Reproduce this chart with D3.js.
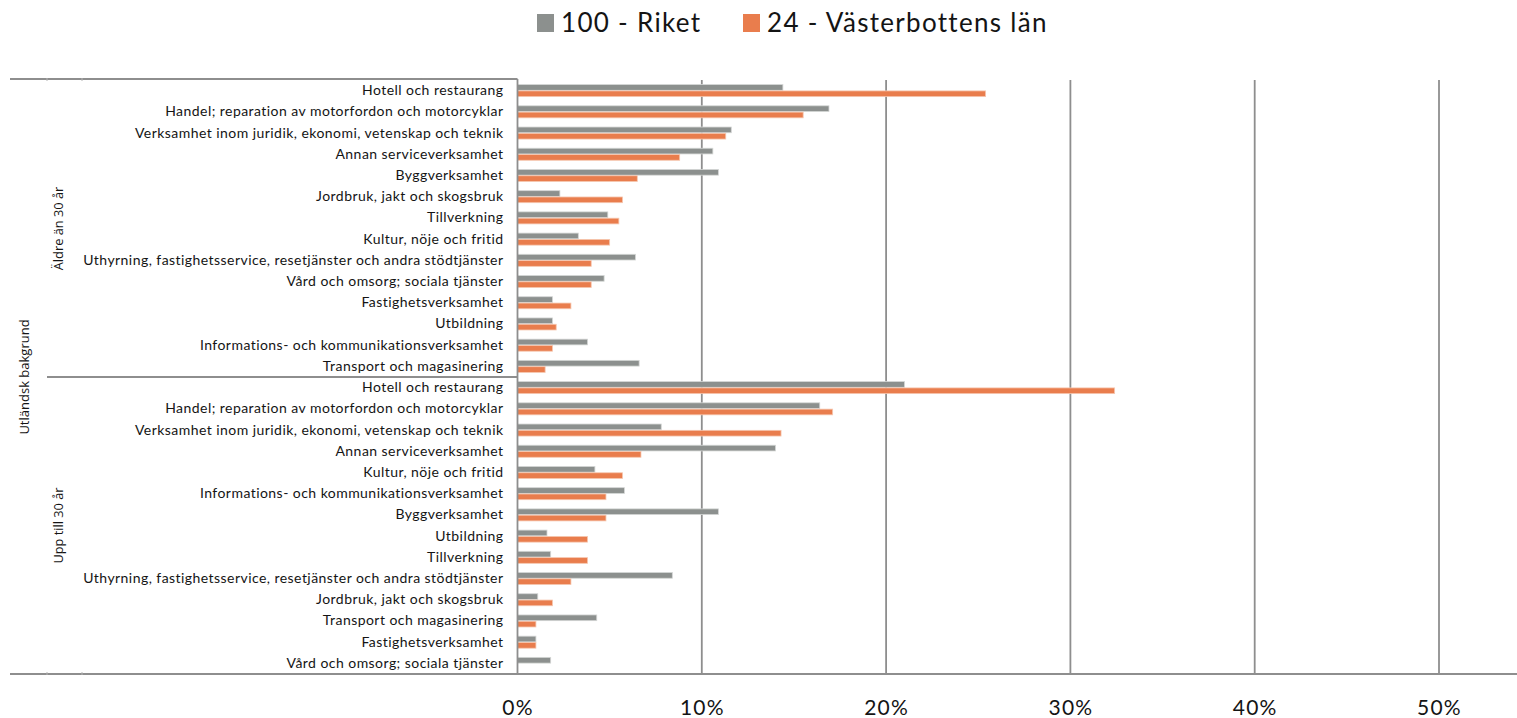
<!DOCTYPE html>
<html>
<head>
<meta charset="utf-8">
<script src="https://cdn.jsdelivr.net/npm/d3@7"></script>
<style>
  html, body { margin: 0; padding: 0; background: #ffffff; }
  svg { display: block; }
</style>
</head>
<body>
<svg id="chart" width="1517" height="718"></svg>
<script>
// Series shown in the legend
const seriesNames = ["100 - Riket", "24 - Västerbottens län"];
const seriesColors = ["#8c908e", "#e97d4d"];

// Outer and inner category levels
const outerGroup = "Utländsk bakgrund";
const ageGroups = ["Äldre än 30 år", "Upp till 30 år"];

// Industries, 30 years and older (share of employed)
const industriesOlder = [
  "Hotell och restaurang",
  "Handel; reparation av motorfordon och motorcyklar",
  "Verksamhet inom juridik, ekonomi, vetenskap och teknik",
  "Annan serviceverksamhet",
  "Byggverksamhet",
  "Jordbruk, jakt och skogsbruk",
  "Tillverkning",
  "Kultur, nöje och fritid",
  "Uthyrning, fastighetsservice, resetjänster och andra stödtjänster",
  "Vård och omsorg; sociala tjänster",
  "Fastighetsverksamhet",
  "Utbildning",
  "Informations- och kommunikationsverksamhet",
  "Transport och magasinering"
];
const riketOlder = [0.144, 0.169, 0.116, 0.106, 0.109, 0.023, 0.049, 0.033, 0.064, 0.047, 0.019, 0.019, 0.038, 0.066];
const vasterbottenOlder = [0.254, 0.155, 0.113, 0.088, 0.065, 0.057, 0.055, 0.050, 0.040, 0.040, 0.029, 0.021, 0.019, 0.015];

// Industries, up to 30 years
const industriesYounger = [
  "Hotell och restaurang",
  "Handel; reparation av motorfordon och motorcyklar",
  "Verksamhet inom juridik, ekonomi, vetenskap och teknik",
  "Annan serviceverksamhet",
  "Kultur, nöje och fritid",
  "Informations- och kommunikationsverksamhet",
  "Byggverksamhet",
  "Utbildning",
  "Tillverkning",
  "Uthyrning, fastighetsservice, resetjänster och andra stödtjänster",
  "Jordbruk, jakt och skogsbruk",
  "Transport och magasinering",
  "Fastighetsverksamhet",
  "Vård och omsorg; sociala tjänster"
];
const riketYounger = [0.210, 0.164, 0.078, 0.140, 0.042, 0.058, 0.109, 0.016, 0.018, 0.084, 0.011, 0.043, 0.010, 0.018];
const vasterbottenYounger = [0.324, 0.171, 0.143, 0.067, 0.057, 0.048, 0.048, 0.038, 0.038, 0.029, 0.019, 0.010, 0.010, 0];

// Axis ticks
const tickValues = [0, 0.1, 0.2, 0.3, 0.4, 0.5];

// Build row records
const rows = [];
[[industriesOlder, riketOlder, vasterbottenOlder], [industriesYounger, riketYounger, vasterbottenYounger]]
  .forEach(([cats, a, b], g) => {
    cats.forEach((c, i) => rows.push({ key: g + "|" + i, label: c, group: g, values: [a[i], b[i]] }));
  });

const svg = d3.select("#chart");
const fontLabel = "Lato, 'Liberation Sans', sans-serif";
const axisColor = "#8e8e8e";
const textColor = "#141414";

const plotTop = 80, plotBottom = 674;
const x = d3.scaleLinear().domain([0, 0.5]).range([517.5, 1439]);
const y = d3.scaleBand().domain(rows.map(r => r.key)).range([plotTop, plotBottom]).padding(0);
const ySeries = d3.scaleBand().domain([0, 1]).range([0, y.bandwidth()]).paddingInner(0).paddingOuter(0.68);

// Vertical gridlines
svg.append("g").selectAll("line").data(tickValues.filter(t => t > 0)).join("line")
  .attr("x1", d => x(d)).attr("x2", d => x(d))
  .attr("y1", plotTop).attr("y2", plotBottom)
  .attr("stroke", axisColor).attr("stroke-width", 1.8);

// Bars
const rowG = svg.append("g").selectAll("g").data(rows).join("g")
  .attr("transform", d => `translate(0,${y(d.key)})`);
rowG.selectAll("rect").data(d => d.values.map((v, s) => ({ v, s }))).join("rect")
  .attr("x", x(0))
  .attr("y", d => ySeries(d.s) + 0.3)
  .attr("width", d => x(d.v) - x(0))
  .attr("height", ySeries.bandwidth() - 0.6)
  .attr("fill", d => seriesColors[d.s])
  .attr("stroke", d => d.s === 0 ? "#d4d6d5" : "#f6c7b0")
  .attr("stroke-width", d => d.v > 0 ? 0.8 : 0);

// Category frame lines
const frame = svg.append("g").attr("stroke", axisColor).attr("stroke-width", 1.8).attr("fill", "none");
frame.append("line").attr("x1", 10).attr("x2", x(0)).attr("y1", plotTop - 1).attr("y2", plotTop - 1);
frame.append("line").attr("x1", 47).attr("x2", x(0)).attr("y1", y(rows[14].key)).attr("y2", y(rows[14].key));
frame.append("line").attr("x1", 10).attr("x2", 1517).attr("y1", plotBottom).attr("y2", plotBottom).attr("stroke-width", 2.2);
frame.append("line").attr("x1", x(0)).attr("x2", x(0)).attr("y1", plotTop - 1).attr("y2", plotBottom);
[47, 82].forEach(xx => {
  frame.append("line").attr("x1", xx).attr("x2", xx).attr("y1", plotTop - 2).attr("y2", plotTop + 1).attr("stroke-width", 1).attr("stroke", "#b5b5b5");
  frame.append("line").attr("x1", xx).attr("x2", xx).attr("y1", plotBottom - 2).attr("y2", plotBottom + 1).attr("stroke-width", 1).attr("stroke", "#b5b5b5");
});

// Category labels (inner level)
const yAxis = d3.axisLeft(y).tickSize(0).tickPadding(14).tickFormat(k => rows.find(r => r.key === k).label);
const yAxisG = svg.append("g").attr("transform", `translate(${x(0)},0)`).call(yAxis);
yAxisG.select(".domain").remove();
yAxisG.selectAll("text").attr("font-family", fontLabel).attr("font-size", 14)
  .attr("letter-spacing", 0.45).attr("fill", textColor);

// Age group and outer labels (rotated)
const groupMid = g => {
  const gr = rows.filter(r => r.group === g);
  return (y(gr[0].key) + y(gr[gr.length - 1].key) + y.bandwidth()) / 2;
};
ageGroups.forEach((t, g) => {
  svg.append("text")
    .attr("transform", `translate(63,${groupMid(g)}) rotate(-90)`)
    .attr("text-anchor", "middle").attr("font-family", "'Open Sans', sans-serif")
    .attr("font-size", 12.8).attr("fill", textColor).text(t);
});
svg.append("text")
  .attr("transform", `translate(29,${(plotTop + plotBottom) / 2}) rotate(-90)`)
  .attr("text-anchor", "middle").attr("font-family", "'Open Sans', sans-serif")
  .attr("font-size", 13).attr("fill", textColor).text(outerGroup);

// X axis tick labels
const xAxis = d3.axisBottom(x).tickValues(tickValues).tickSize(0).tickPadding(0).tickFormat(d3.format(".0%"));
const xAxisG = svg.append("g").attr("transform", `translate(0,${plotBottom + 41})`).call(xAxis);
xAxisG.select(".domain").remove();
xAxisG.selectAll("text").attr("font-family", fontLabel).attr("font-size", 21)
  .attr("letter-spacing", 1.2).attr("fill", textColor).attr("dy", 0);

// Legend
const legend = svg.append("g").attr("transform", "translate(537,0)");
const legendItems = [{ x: 0 }, { x: 206 }];
seriesNames.forEach((name, i) => {
  const g = legend.append("g").attr("transform", `translate(${legendItems[i].x},0)`);
  g.append("rect").attr("x", 0).attr("y", 14).attr("width", 17).attr("height", 18).attr("fill", seriesColors[i]);
  g.append("text").attr("x", 24).attr("y", 32).attr("font-family", fontLabel)
    .attr("font-size", 26).attr("letter-spacing", 1.3).attr("fill", textColor).text(name);
});
</script>
</body>
</html>
